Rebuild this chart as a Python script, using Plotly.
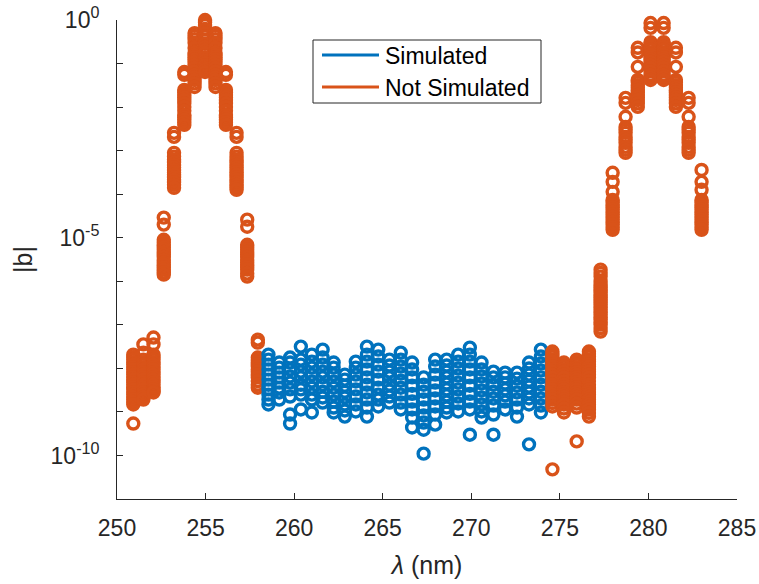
import plotly.graph_objects as go

# ---------------- data ----------------
# Not simulated, left part (wavelength columns in nm, |b| values per column)
ns_left_lambda = [250.92, 251.49, 252.06, 252.64, 253.22, 253.80, 254.38,
                  254.97, 255.56, 256.15, 256.75, 257.35, 257.95]
ns_left_b = [
    [2.07e-8, 1.8e-8, 1.59e-8, 1.39e-8, 1.22e-8, 1.07e-8, 9.4e-9, 8.2e-9, 7.2e-9, 6.3e-9, 5.5e-9,
     4.8e-9, 4.2e-9, 3.7e-9, 3.3e-9, 2.85e-9, 2.5e-9, 2.2e-9, 1.92e-9, 1.69e-9, 1.48e-9, 5.4e-10],
    [3.55e-8, 2.30e-8, 1.59e-8, 1.39e-8, 1.22e-8, 1.07e-8, 9.4e-9, 8.2e-9, 7.2e-9, 6.3e-9, 5.5e-9,
     4.8e-9, 4.2e-9, 3.7e-9, 3.3e-9, 2.85e-9, 2.5e-9, 2.2e-9, 1.92e-9],
    [5.1e-8, 3.55e-8, 2.07e-8, 1.8e-8, 1.59e-8, 1.39e-8, 1.22e-8, 1.07e-8, 9.4e-9, 8.2e-9, 7.2e-9,
     6.3e-9, 5.5e-9, 4.8e-9, 4.2e-9, 3.7e-9, 3.3e-9, 3.0e-9, 2.8e-9],
    [2.9e-5, 2.0e-5, 9.0e-6, 7.9e-6, 6.9e-6, 6.0e-6, 5.3e-6, 4.7e-6, 4.1e-6, 3.6e-6, 3.1e-6,
     2.7e-6, 2.4e-6, 2.1e-6, 1.85e-6, 1.6e-6, 1.42e-6],
    [2.56e-3, 2.07e-3, 8.9e-4, 7.3e-4, 6.2e-4, 5.4e-4, 4.7e-4, 4.1e-4, 3.6e-4, 3.2e-4, 2.8e-4,
     2.45e-4, 2.14e-4, 1.87e-4, 1.64e-4, 1.40e-4],
    [0.064, 0.055, 0.0248, 0.0217, 0.019, 0.0166, 0.0146, 0.0122, 0.0101, 0.0082, 0.0066,
     0.0058, 0.0051, 0.0045, 0.0039],
    [0.50, 0.43, 0.36, 0.30, 0.228, 0.175, 0.158, 0.14, 0.124, 0.109, 0.093, 0.079, 0.066,
     0.055, 0.048, 0.042, 0.035, 0.029],
    [1.0, 0.88, 0.77, 0.62, 0.50, 0.42, 0.35, 0.29, 0.24, 0.205, 0.175, 0.14, 0.12, 0.103,
     0.091, 0.079, 0.072, 0.064],
    [0.50, 0.43, 0.36, 0.30, 0.228, 0.175, 0.158, 0.14, 0.124, 0.109, 0.093, 0.079, 0.066,
     0.055, 0.048, 0.042, 0.035, 0.029],
    [0.064, 0.055, 0.0248, 0.0217, 0.019, 0.0166, 0.0146, 0.0122, 0.0101, 0.0082, 0.0066,
     0.0058, 0.0051, 0.0045, 0.0039],
    [2.56e-3, 2.07e-3, 8.9e-4, 7.3e-4, 6.2e-4, 5.4e-4, 4.7e-4, 4.1e-4, 3.6e-4, 3.2e-4, 2.8e-4,
     2.45e-4, 2.14e-4, 1.87e-4, 1.64e-4, 1.43e-4, 1.26e-4],
    [2.6e-5, 1.79e-5, 6.9e-6, 6.0e-6, 5.3e-6, 4.7e-6, 4.1e-6, 3.6e-6, 3.1e-6, 2.7e-6, 2.4e-6,
     2.1e-6, 1.85e-6, 1.5e-6, 1.28e-6],
    [4.57e-8, 3.9e-8, 1.77e-8, 1.55e-8, 1.36e-8, 1.22e-8, 1.10e-8, 9.6e-9, 8.4e-9, 7.2e-9,
     6.2e-9, 5.1e-9, 4.2e-9, 3.6e-9],
]

# Simulated
sim_lambda = [258.55, 259.16, 259.77, 260.38, 261.00, 261.61, 262.23, 262.86,
              263.48, 264.11, 264.75, 265.38, 266.02, 266.66, 267.31, 267.96,
              268.61, 269.26, 269.92, 270.58, 271.25, 271.91, 272.58, 273.26, 273.93]
sim_b = [
    [2.07e-8, 1.59e-8, 1.22e-8, 9.4e-9, 7.2e-9, 5.5e-9, 4.2e-9, 3.3e-9, 2.5e-9, 1.92e-9, 1.48e-9],
    [1.36e-8, 1.04e-8, 8.0e-9, 6.2e-9, 4.7e-9, 3.6e-9, 2.8e-9, 1.92e-9],
    [1.77e-8, 1.36e-8, 9.4e-9, 6.5e-9, 4.7e-9, 3.3e-9, 2.25e-9, 8.7e-10, 5.4e-10],
    [3.16e-8, 1.59e-8, 1.22e-8, 8.4e-9, 6.2e-9, 4.2e-9, 3.3e-9, 2.5e-9, 1.14e-9],
    [2.07e-8, 1.43e-8, 1.04e-8, 7.2e-9, 5.0e-9, 3.6e-9, 2.5e-9, 1.92e-9, 9.7e-10],
    [2.70e-8, 1.77e-8, 1.22e-8, 8.4e-9, 6.2e-9, 4.2e-9, 2.9e-9, 2.14e-9, 1.64e-9],
    [1.36e-8, 1.04e-8, 7.2e-9, 5.0e-9, 3.6e-9, 2.5e-9, 1.73e-9, 1.26e-9, 9.7e-10],
    [7.2e-9, 5.5e-9, 4.0e-9, 2.9e-9, 2.14e-9, 1.48e-9, 1.08e-9, 7.8e-10],
    [1.43e-8, 1.04e-8, 7.2e-9, 5.0e-9, 3.3e-9, 2.25e-9, 1.48e-9, 1.02e-9],
    [3.16e-8, 2.07e-8, 1.43e-8, 9.4e-9, 6.2e-9, 4.2e-9, 2.8e-9, 1.92e-9, 1.26e-9, 7.8e-10],
    [2.70e-8, 1.87e-8, 1.22e-8, 8.4e-9, 5.5e-9, 3.6e-9, 2.5e-9, 1.92e-9, 1.33e-9],
    [1.59e-8, 1.16e-8, 8.4e-9, 6.2e-9, 4.2e-9, 3.1e-9, 2.25e-9, 1.64e-9],
    [2.30e-8, 1.59e-8, 1.10e-8, 7.6e-9, 5.2e-9, 3.6e-9, 2.5e-9, 1.64e-9, 1.14e-9],
    [1.36e-8, 9.4e-9, 6.2e-9, 4.0e-9, 2.6e-9, 1.73e-9, 1.14e-9, 7.4e-10, 4.4e-10],
    [6.2e-9, 4.2e-9, 2.9e-9, 1.92e-9, 1.26e-9, 8.3e-10, 5.7e-10, 3.9e-10, 1.1e-10],
    [1.59e-8, 1.10e-8, 7.2e-9, 4.7e-9, 3.1e-9, 2.03e-9, 1.33e-9, 8.7e-10, 5.1e-10],
    [1.59e-8, 1.16e-8, 8.4e-9, 6.2e-9, 4.5e-9, 3.3e-9, 2.4e-9, 1.73e-9, 1.26e-9, 9.7e-10],
    [2.07e-8, 1.43e-8, 9.9e-9, 6.8e-9, 4.7e-9, 3.3e-9, 2.25e-9, 1.56e-9, 1.02e-9],
    [3.0e-8, 2.07e-8, 1.43e-8, 9.4e-9, 6.2e-9, 4.0e-9, 2.6e-9, 1.73e-9, 1.14e-9, 3.0e-10],
    [1.36e-8, 9.4e-9, 6.5e-9, 4.5e-9, 3.1e-9, 2.14e-9, 1.48e-9, 1.02e-9, 7.4e-10],
    [8.4e-9, 6.2e-9, 4.2e-9, 2.9e-9, 2.03e-9, 1.40e-9, 8.7e-10, 3.0e-10],
    [8.0e-9, 6.2e-9, 4.5e-9, 3.3e-9, 2.4e-9, 1.73e-9, 1.14e-9],
    [8.0e-9, 5.8e-9, 4.0e-9, 2.8e-9, 1.92e-9, 1.26e-9, 7.8e-10],
    [1.36e-8, 9.9e-9, 7.2e-9, 5.2e-9, 3.8e-9, 2.8e-9, 2.03e-9, 1.48e-9, 1.8e-10],
    [2.70e-8, 1.87e-8, 1.29e-8, 8.9e-9, 6.2e-9, 4.2e-9, 2.9e-9, 2.03e-9, 1.40e-9, 9.7e-10],
]

# Not simulated, right part
ns_right_lambda = [274.58, 275.23, 275.95, 276.64, 277.30, 277.98, 278.71,
                   279.40, 280.12, 280.86, 281.55, 282.27, 283.00]
ns_right_b = [
    [2.43e-8, 2.15e-8, 1.87e-8, 1.6e-8, 1.43e-8, 1.25e-8, 1.10e-8, 9.6e-9, 8.4e-9, 7.2e-9,
     6.2e-9, 5.1e-9, 4.2e-9, 3.7e-9, 3.3e-9, 2.85e-9, 2.5e-9, 2.2e-9, 1.92e-9, 1.6e-9,
     1.33e-9, 4.8e-11],
    [1.36e-8, 1.22e-8, 1.10e-8, 9.6e-9, 8.4e-9, 7.2e-9, 6.2e-9, 5.1e-9, 4.2e-9, 3.7e-9,
     3.3e-9, 2.85e-9, 2.5e-9, 2.2e-9, 1.92e-9, 1.69e-9, 1.48e-9, 1.2e-9, 9.7e-10],
    [1.59e-8, 1.39e-8, 1.22e-8, 1.07e-8, 9.4e-9, 8.2e-9, 7.2e-9, 6.3e-9, 5.5e-9, 4.8e-9,
     4.2e-9, 3.7e-9, 3.3e-9, 2.85e-9, 2.5e-9, 2.2e-9, 1.92e-9, 1.55e-9, 1.26e-9, 2.1e-10],
    [2.43e-8, 2.15e-8, 1.87e-8, 1.6e-8, 1.43e-8, 1.25e-8, 1.10e-8, 9.6e-9, 8.4e-9, 7.2e-9,
     6.2e-9, 5.1e-9, 4.2e-9, 3.7e-9, 3.3e-9, 2.85e-9, 2.5e-9, 2.2e-9, 1.92e-9, 1.69e-9,
     1.48e-9, 1.3e-9, 1.14e-9, 9.5e-10, 7.8e-10],
    [1.85e-6, 1.55e-6, 1.28e-6, 1.0e-6, 8.4e-7, 7.3e-7, 6.4e-7, 5.6e-7, 4.9e-7, 4.3e-7,
     3.8e-7, 3.3e-7, 2.9e-7, 2.55e-7, 2.23e-7, 1.96e-7, 1.71e-7, 1.5e-7, 1.32e-7, 1.15e-7,
     1.01e-7, 8.4e-8, 7.0e-8],
    [3.1e-4, 1.92e-4, 1.13e-4, 7.4e-5, 6.5e-5, 5.7e-5, 5.0e-5, 4.4e-5, 3.9e-5, 3.4e-5,
     3.0e-5, 2.6e-5, 2.3e-5, 2.0e-5, 1.75e-5, 1.52e-5],
    [0.0163, 0.0125, 0.0060, 0.0035, 0.0030, 0.00256, 0.00207, 0.00177, 0.00151, 0.00122,
     0.00104, 0.00089],
    [0.23, 0.18, 0.084, 0.042, 0.037, 0.032, 0.028, 0.0248, 0.0217, 0.019, 0.0166, 0.0146,
     0.0122, 0.0101],
    [0.85, 0.66, 0.31, 0.275, 0.24, 0.21, 0.18, 0.16, 0.14, 0.124, 0.109, 0.093, 0.079,
     0.066, 0.055, 0.048, 0.042],
    [0.85, 0.66, 0.31, 0.275, 0.24, 0.21, 0.18, 0.16, 0.14, 0.124, 0.109, 0.093, 0.079,
     0.066, 0.055, 0.048, 0.042],
    [0.23, 0.18, 0.084, 0.042, 0.037, 0.032, 0.028, 0.0248, 0.0217, 0.019, 0.0166, 0.0146,
     0.0122, 0.0101],
    [0.0163, 0.0125, 0.0060, 0.0035, 0.0030, 0.00256, 0.00207, 0.00177, 0.00151, 0.00122,
     0.00104, 0.00089],
    [3.6e-4, 1.92e-4, 1.26e-4, 7.4e-5, 6.5e-5, 5.7e-5, 5.0e-5, 4.4e-5, 3.9e-5, 3.4e-5,
     3.0e-5, 2.6e-5, 2.3e-5, 2.0e-5, 1.75e-5, 1.52e-5],
]

x_ticks = [250, 255, 260, 265, 270, 275, 280, 285]
y_tick_vals = [1e-11, 1e-10, 1e-9, 1e-8, 1e-7, 1e-6, 1e-5, 1e-4, 1e-3, 1e-2, 1e-1, 1e0]
y_tick_text = ["", "10<sup>-10</sup>", "", "", "", "", "10<sup>-5</sup>", "", "", "", "", "10<sup>0</sup>"]
series_names = ["Simulated", "Not Simulated"]

# ---------------- styling ----------------
BLUE = "#0072BD"
ORANGE = "#D95319"
AX = "#262626"
FONT = "Liberation Sans, Arial, Helvetica, sans-serif"


def flatten(lams, vals):
    xs, ys = [], []
    for lam, col in zip(lams, vals):
        for v in col:
            xs.append(lam)
            ys.append(v)
    return xs, ys


def marker(color):
    return dict(symbol="circle-open", size=11, color=color,
                line=dict(width=3.4, color=color))


fig = go.Figure()
x1, y1 = flatten(ns_left_lambda, ns_left_b)
fig.add_trace(go.Scatter(x=x1, y=y1, mode="markers", marker=marker(ORANGE),
                         cliponaxis=False, showlegend=False))
x2, y2 = flatten(sim_lambda, sim_b)
fig.add_trace(go.Scatter(x=x2, y=y2, mode="markers", marker=marker(BLUE),
                         cliponaxis=False, showlegend=False))
x3, y3 = flatten(ns_right_lambda, ns_right_b)
fig.add_trace(go.Scatter(x=x3, y=y3, mode="markers", marker=marker(ORANGE),
                         cliponaxis=False, showlegend=False))

# plot area in pixels: x 117..737, y 20..499
L, R, T, B = 117, 737, 20, 499


def px(xp):
    return (xp - L) / (R - L)


def py(yp):
    return (B - yp) / (B - T)


shapes = [
    dict(type="rect", xref="paper", yref="paper", x0=px(313), x1=px(541),
         y0=py(103), y1=py(40), line=dict(color=AX, width=1), fillcolor="white", layer="above"),
    dict(type="line", xref="paper", yref="paper", x0=px(322), x1=px(379),
         y0=py(55), y1=py(55), line=dict(color=BLUE, width=3), layer="above"),
    dict(type="line", xref="paper", yref="paper", x0=px(322), x1=px(379),
         y0=py(87), y1=py(87), line=dict(color=ORANGE, width=3), layer="above"),
]
annotations = [
    dict(xref="paper", yref="paper", x=px(383), y=py(56), text=series_names[0],
         showarrow=False, xanchor="left", yanchor="middle",
         font=dict(family=FONT, size=23, color="#000000")),
    dict(xref="paper", yref="paper", x=px(383), y=py(88), text=series_names[1],
         showarrow=False, xanchor="left", yanchor="middle",
         font=dict(family=FONT, size=23, color="#000000")),
]

fig.update_layout(
    width=759, height=584,
    margin=dict(l=L, r=759 - R, t=T, b=584 - B, autoexpand=False),
    plot_bgcolor="white", paper_bgcolor="white",
    showlegend=False,
    font=dict(family=FONT, size=23, color=AX),
    shapes=shapes, annotations=annotations,
)
fig.update_xaxes(
    range=[250, 285], tickvals=x_ticks, ticks="inside", ticklen=6,
    tickcolor=AX, tickwidth=1, showline=True, linecolor=AX, linewidth=1,
    showgrid=False, zeroline=False, mirror=False, ticklabelstandoff=8,
    automargin=False,
    tickfont=dict(family=FONT, size=23, color=AX),
    title=dict(text="<i>λ</i> (nm)", font=dict(family=FONT, size=25, color=AX), standoff=16),
)
fig.update_yaxes(
    type="log", range=[-11, 0], tickvals=y_tick_vals, ticktext=y_tick_text,
    ticks="inside", ticklen=6, tickcolor=AX, tickwidth=1, showline=True,
    linecolor=AX, linewidth=1, showgrid=False, zeroline=False, mirror=False,
    ticklabelstandoff=12, automargin=False,
    tickfont=dict(family=FONT, size=23, color=AX),
    title=dict(text="|b|", font=dict(family=FONT, size=25, color=AX), standoff=10),
)

fig.write_html("out.html")
